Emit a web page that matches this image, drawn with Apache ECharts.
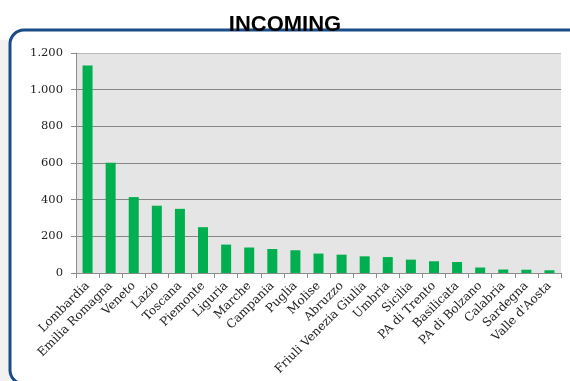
<!DOCTYPE html>
<html>
<head>
<meta charset="utf-8">
<script src="https://cdn.jsdelivr.net/npm/echarts@6/dist/echarts.min.js"></script>
<style>
  html, body { margin: 0; padding: 0; background: #fff; }
  #chart { width: 570px; height: 381px; }
</style>
</head>
<body>
<div id="chart"></div>
<script>
// Incoming flows by region
const regions = [
  'Lombardia', 'Emilia Romagna', 'Veneto', 'Lazio', 'Toscana', 'Piemonte',
  'Liguria', 'Marche', 'Campania', 'Puglia', 'Molise', 'Abruzzo',
  'Friuli Venezia Giulia', 'Umbria', 'Sicilia', 'PA di Trento', 'Basilicata',
  'PA di Bolzano', 'Calabria', 'Sardegna', "Valle d'Aosta"
];
const incoming = [
  1132, 601, 414, 367, 350, 250,
  155, 139, 131, 124, 106, 100,
  91, 87, 73, 64, 60,
  30, 19, 18, 15
];
const yTicks = [0, 200, 400, 600, 800, 1000, 1200];

const fmt = v => String(v).replace(/\B(?=(\d{3})+(?!\d))/g, '.');

const chart = echarts.init(document.getElementById('chart'), null, { renderer: 'canvas' });
chart.setOption({
  animation: false,
  backgroundColor: '#ffffff',
  title: {
    text: 'INCOMING',
    left: 'center',
    top: 9,
    z: 10,
    textStyle: {
      fontFamily: 'Liberation Sans, Arial, sans-serif',
      fontSize: 22,
      fontWeight: 'bold',
      color: '#000'
    }
  },
  graphic: [
    {
      type: 'rect',
      z: -10,
      shape: { x: 0, y: 40, width: 9, height: 341 },
      style: { fill: '#f1f1f1' },
      silent: true
    },
    {
      type: 'rect',
      z: 0,
      shape: { x: 10, y: 30, width: 574, height: 354, r: 14 },
      style: { fill: 'none', stroke: '#1a4c88', lineWidth: 3 },
      silent: true
    }
  ],
  grid: {
    left: 76,
    right: 9,
    top: 53,
    bottom: 108,
    show: true,
    backgroundColor: '#e5e5e5',
    borderWidth: 0
  },
  xAxis: {
    type: 'category',
    data: regions,
    axisLine: { show: true, lineStyle: { color: '#8c8c8c', width: 1 } },
    axisTick: { show: true, alignWithLabel: false, length: 5, lineStyle: { color: '#8c8c8c' } },
    axisLabel: {
      interval: 0,
      rotate: 45,
      margin: 11,
      fontFamily: 'DejaVu Serif, serif',
      fontSize: 12,
      color: '#222'
    },
    splitLine: { show: false }
  },
  yAxis: {
    type: 'value',
    min: yTicks[0],
    max: yTicks[yTicks.length - 1],
    interval: yTicks[1] - yTicks[0],
    axisLine: { show: true, lineStyle: { color: '#8c8c8c', width: 1 } },
    axisTick: { show: true, length: 5, lineStyle: { color: '#8c8c8c' } },
    axisLabel: {
      margin: 13,
      fontFamily: 'DejaVu Serif, serif',
      fontSize: 11.5,
      color: '#222',
      formatter: fmt
    },
    splitLine: {
      show: true,
      lineStyle: {
        color: ['#868686', '#868686', '#868686', '#868686', '#868686', '#868686', '#b9b9b9'],
        width: 1
      }
    }
  },
  series: [{
    type: 'bar',
    data: incoming,
    barWidth: 10,
    itemStyle: { color: '#00b050' }
  }]
});
</script>
</body>
</html>
